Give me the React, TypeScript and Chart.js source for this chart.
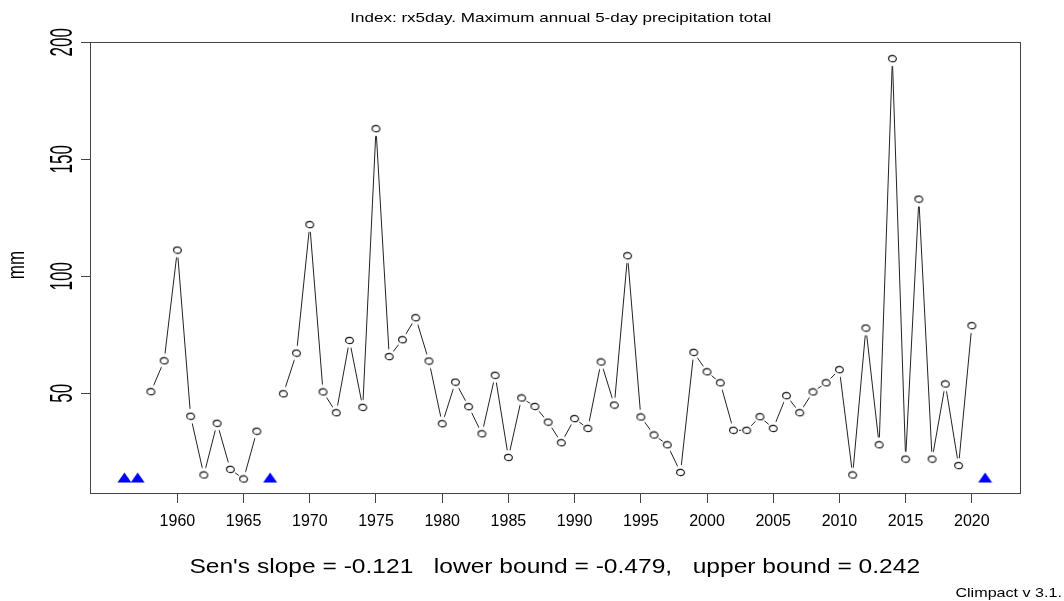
import React, { useEffect, useRef } from "react";
import { Chart, registerables } from "chart.js";

Chart.register(...registerables);

const years: number[] = [
  1956, 1957, 1958, 1959, 1960, 1961, 1962, 1963, 1964, 1965, 1966, 1967,
  1968, 1969, 1970, 1971, 1972, 1973, 1974, 1975, 1976, 1977, 1978, 1979,
  1980, 1981, 1982, 1983, 1984, 1985, 1986, 1987, 1988, 1989, 1990, 1991,
  1992, 1993, 1994, 1995, 1996, 1997, 1998, 1999, 2000, 2001, 2002, 2003,
  2004, 2005, 2006, 2007, 2008, 2009, 2010, 2011, 2012, 2013, 2014, 2015,
  2016, 2017, 2018, 2019, 2020, 2021,
];

const rx5day: (number | null)[] = [
  null, null, 50.7, 63.9, 111.2, 40.2, 15.1, 37.2, 17.5, 13.4, 33.8, null,
  49.8, 67.2, 122.1, 50.6, 41.7, 72.6, 44.0, 163.1, 65.7, 72.9, 82.3, 63.8,
  37.0, 54.8, 44.3, 32.7, 57.7, 22.6, 48.0, 44.4, 37.7, 28.9, 39.2, 35.0,
  63.4, 45.0, 108.8, 39.9, 32.2, 28.0, 16.2, 67.5, 59.2, 54.5, 34.2, 34.2,
  40.0, 35.0, 49.0, 41.7, 50.6, 54.5, 60.1, 15.1, 77.9, 28.0, 193.0, 21.9,
  133.0, 21.9, 54.0, 19.1, 78.9, null,
];

const missingMarkerValue = 14;

const xTickLabels: number[] = [1960, 1965, 1970, 1975, 1980, 1985, 1990, 1995, 2000, 2005, 2010, 2015, 2020];
const yTickLabels: number[] = [50, 100, 150, 200];

const titleText = "Index: rx5day. Maximum annual 5-day precipitation total";
const slopeText = "Sen's slope = -0.121   lower bound = -0.479,   upper bound = 0.242";
const footerText = "Climpact v 3.1.";
const yAxisTitle = "mm";

const FONT = "'Liberation Sans', Arial, Helvetica, sans-serif";

function makeCircle(): HTMLCanvasElement {
  const c = document.createElement("canvas");
  c.width = 11;
  c.height = 9;
  const g = c.getContext("2d")!;
  g.beginPath();
  g.ellipse(5.5, 4.5, 3.9, 3.1, 0, 0, Math.PI * 2);
  g.fillStyle = "#ffffff";
  g.fill();
  g.strokeStyle = "#111111";
  g.lineWidth = 1.1;
  g.stroke();
  return c;
}

function makeMask(): HTMLCanvasElement {
  const c = document.createElement("canvas");
  c.width = 13;
  c.height = 17;
  const g = c.getContext("2d")!;
  g.beginPath();
  g.ellipse(6.5, 8.5, 5.5, 7.5, 0, 0, Math.PI * 2);
  g.fillStyle = "#ffffff";
  g.fill();
  return c;
}

function makeTriangle(): HTMLCanvasElement {
  const c = document.createElement("canvas");
  c.width = 15;
  c.height = 11;
  const g = c.getContext("2d")!;
  g.beginPath();
  g.moveTo(0.5, 10.5);
  g.lineTo(7.5, 0.5);
  g.lineTo(14.5, 10.5);
  g.closePath();
  g.fillStyle = "#0000ff";
  g.fill();
  return c;
}

function stretchedText(ctx: CanvasRenderingContext2D, text: string, x: number, y: number, sx: number, align: CanvasTextAlign) {
  ctx.save();
  ctx.translate(x, y);
  ctx.scale(sx, 1);
  ctx.textAlign = align;
  ctx.textBaseline = "alphabetic";
  ctx.fillText(text, 0, 0);
  ctx.restore();
}

export default function App() {
  const ref = useRef<HTMLCanvasElement | null>(null);

  useEffect(() => {
    if (!ref.current) return;
    const pts = years.map((yr, i) => ({ x: yr, y: rx5day[i] }));
    const missing = years
      .filter((_, i) => rx5day[i] === null)
      .map((yr) => ({ x: yr, y: missingMarkerValue }));

    const circleImg = makeCircle();
    const maskImg = makeMask();
    const triImg = makeTriangle();

    const decor = {
      id: "decor",
      afterDraw(chart: any) {
        const ctx = chart.ctx as CanvasRenderingContext2D;
        const a = chart.chartArea;
        const ys = chart.scales.y;
        ctx.save();
        // plot box
        ctx.strokeStyle = "#444444";
        ctx.lineWidth = 1;
        ctx.strokeRect(Math.round(a.left) + 0.5, Math.round(a.top) + 0.5, Math.round(a.right - a.left), Math.round(a.bottom - a.top));
        ctx.fillStyle = "#000000";
        // y tick labels (rotated, stretched like the reference)
        ctx.font = `17px ${FONT}`;
        ctx.textAlign = "center";
        ctx.textBaseline = "alphabetic";
        for (const v of yTickLabels) {
          const py = ys.getPixelForValue(v);
          ctx.save();
          ctx.translate(60 + 11.5, py);
          ctx.rotate(-Math.PI / 2);
          ctx.scale(1, 1.85);
          ctx.fillText(String(v), 0, 0);
          ctx.restore();
        }
        // y axis title
        ctx.save();
        ctx.font = `17px ${FONT}`;
        ctx.translate(18 + 6, 265);
        ctx.rotate(-Math.PI / 2);
        ctx.scale(1, 1.4);
        ctx.textAlign = "center";
        ctx.textBaseline = "alphabetic";
        ctx.fillText(yAxisTitle, 0, 0);
        ctx.restore();
        // title
        const cx = (a.left + a.right) / 2;
        ctx.font = `13px ${FONT}`;
        stretchedText(ctx, titleText, cx + 6, 22, 1.31, "center");
        // sen's slope
        ctx.font = `21px ${FONT}`;
        stretchedText(ctx, slopeText, cx, 573, 1.17, "center");
        // footer
        ctx.font = `13px ${FONT}`;
        stretchedText(ctx, footerText, 1062, 597, 1.24, "right");
        ctx.restore();
      },
    };

    const chart = new Chart(ref.current, {
      type: "line",
      data: {
        datasets: [
          {
            label: "points",
            data: pts as any,
            showLine: false,
            pointStyle: circleImg as any,
            pointRadius: 4,
            order: 0,
          },
          {
            label: "missing",
            data: missing as any,
            showLine: false,
            pointStyle: triImg as any,
            pointRadius: 5,
            order: 0,
          },
          {
            label: "mask",
            data: pts as any,
            showLine: false,
            pointStyle: maskImg as any,
            pointRadius: 6,
            order: 1,
          },
          {
            label: "line",
            data: pts as any,
            borderColor: "#222222",
            borderWidth: 1,
            pointRadius: 0,
            spanGaps: false,
            tension: 0,
            order: 2,
          },
        ],
      },
      options: {
        animation: false,
        responsive: false,
        devicePixelRatio: 1,
        layout: { padding: { left: 0, top: 42.3, right: 44.5, bottom: 0 } },
        plugins: {
          legend: { display: false },
          tooltip: { enabled: false },
          title: { display: false },
        },
        scales: {
          x: {
            type: "linear",
            position: "bottom",
            min: 1953.4,
            max: 2023.6,
            afterBuildTicks: (s: any) => {
              s.ticks = xTickLabels.map((v) => ({ value: v }));
            },
            afterFit: (s: any) => {
              s.height = 108;
            },
            ticks: {
              autoSkip: false,
              maxRotation: 0,
              minRotation: 0,
              padding: 9,
              color: "#000000",
              font: { family: FONT, size: 16 },
              callback: (v: any) => String(v),
            },
            grid: { drawOnChartArea: false, drawTicks: true, tickLength: 10, color: "#444444" },
            border: { display: false },
          },
          y: {
            type: "linear",
            position: "left",
            min: 7.4,
            max: 200,
            afterBuildTicks: (s: any) => {
              s.ticks = yTickLabels.map((v) => ({ value: v }));
            },
            afterFit: (s: any) => {
              s.width = 90;
            },
            ticks: { color: "rgba(0,0,0,0)", font: { family: FONT, size: 16 } },
            grid: { drawOnChartArea: false, drawTicks: true, tickLength: 9, color: "#444444" },
            border: { display: false },
          },
        },
      },
      plugins: [decor],
    });
    return () => chart.destroy();
  }, []);

  return (
    <div style={{ position: "absolute", left: 0, top: 0, width: 1064, height: 601, background: "#ffffff" }}>
      <canvas ref={ref} width={1064} height={601} style={{ display: "block", width: 1064, height: 601 }} />
    </div>
  );
}
